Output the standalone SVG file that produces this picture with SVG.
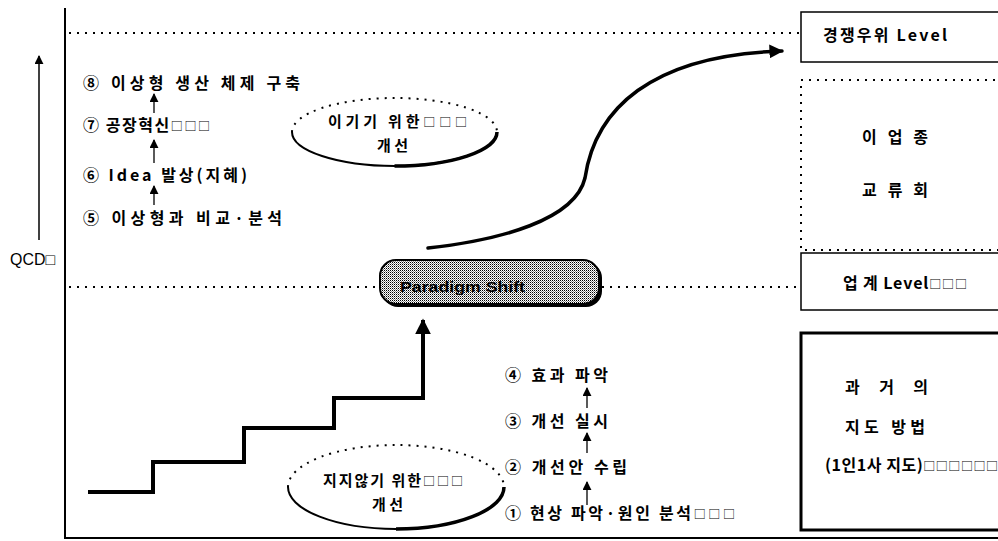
<svg xmlns="http://www.w3.org/2000/svg" width="998" height="541" viewBox="0 0 998 541">
<style>
.t{font-family:"Noto Sans CJK KR","Liberation Sans",sans-serif;font-size:16px;font-weight:700;fill:#000}
.e{font-size:15px}
.x{font-size:12px;font-weight:400}
.lat{font-family:"Liberation Sans",Arial,sans-serif;font-size:16px;fill:#000}
.dot{stroke:#000;stroke-width:2;stroke-dasharray:2 6;fill:none}
.ln{stroke:#000;fill:none}
</style>
<defs>
<pattern id="chk" width="2" height="2" patternUnits="userSpaceOnUse">
<rect width="2" height="2" fill="#fff"/>
<rect x="0" y="0" width="1" height="1" fill="#000"/>
<rect x="1" y="1" width="1" height="1" fill="#888"/>
</pattern>
<marker id="ah" viewBox="0 0 10 10" refX="9" refY="5" markerWidth="9" markerHeight="9" markerUnits="userSpaceOnUse" orient="auto">
<path d="M0,0 L10,5 L0,10 z" fill="#000"/>
</marker>
<marker id="ahb" viewBox="0 0 10 10" refX="9" refY="5" markerWidth="4" markerHeight="4" orient="auto">
<path d="M0,0 L10,5 L0,10 z" fill="#000"/>
</marker>
</defs>
<rect width="998" height="541" fill="#fff"/>

<g id="connectors">
<line class="ln" x1="65" y1="8" x2="65" y2="538" stroke-width="2"/>
<line class="ln" x1="64" y1="538" x2="998" y2="538" stroke-width="2"/>
<line class="ln" x1="39" y1="240" x2="39" y2="56" stroke-width="1.5" marker-end="url(#ah)"/>
<line class="dot" x1="69" y1="33" x2="800" y2="33"/>
<line class="dot" x1="69" y1="287" x2="380" y2="287"/>
<line class="dot" x1="602" y1="287" x2="800" y2="287"/>
<path class="ln" d="M88,492 H153 V462 H244 V428 H334 V398 H423 V320" stroke-width="4" stroke-linejoin="miter" marker-end="url(#ahb)"/>
<path class="ln" d="M428,248 C500,240 575,220 585,178 C595,110 650,55 782,51" stroke-width="3.5" stroke-linecap="round" marker-end="url(#ahb)"/>
<line class="ln" x1="154" y1="113" x2="154" y2="94" stroke-width="1.3" marker-end="url(#ah)"/>
<line class="ln" x1="154" y1="163" x2="154" y2="140" stroke-width="1.3" marker-end="url(#ah)"/>
<line class="ln" x1="154" y1="205" x2="154" y2="186" stroke-width="1.3" marker-end="url(#ah)"/>
<line class="ln" x1="587" y1="408" x2="587" y2="388" stroke-width="1.3" marker-end="url(#ah)"/>
<line class="ln" x1="587" y1="453" x2="587" y2="433" stroke-width="1.3" marker-end="url(#ah)"/>
<line class="ln" x1="587" y1="505" x2="587" y2="482" stroke-width="1.3" marker-end="url(#ah)"/>
</g>

<g id="axis-label">
<text class="lat" x="10" y="265" textLength="45" lengthAdjust="spacingAndGlyphs">QCD□</text>
</g>

<g id="steps-upper">
<text class="t" x="83" y="89" textLength="217" lengthAdjust="spacing">⑧ 이상형 생산 체제 구축</text>
<text class="t" x="83" y="131" textLength="127" lengthAdjust="spacing">⑦ 공장혁신<tspan class="x">□□□</tspan></text>
<text class="t" x="83" y="181" textLength="164" lengthAdjust="spacing">⑥ Idea 발상(지혜)</text>
<text class="t" x="83" y="224" textLength="199" lengthAdjust="spacing">⑤ 이상형과 비교·분석</text>
</g>

<g id="ellipse-win">
<path d="M292,132 A102.5,34 0 0 1 497,132" class="dot"/>
<path d="M292,132 A102.5,34 0 0 0 497,132" class="ln" stroke-width="2"/>
<path d="M394.5,166 A102.5,34 0 0 0 497,132" class="ln" stroke-width="3.5"/>
<text class="t e" x="328" y="127" textLength="139" lengthAdjust="spacing">이기기 위한<tspan class="x">□□□</tspan></text>
<text class="t e" x="377" y="151" textLength="31" lengthAdjust="spacing">개선</text>
</g>

<g id="paradigm-shift">
<rect x="382" y="262" width="220" height="45" rx="16" fill="#000"/>
<rect x="380" y="260" width="219" height="44" rx="16" fill="url(#chk)" stroke="#000" stroke-width="2"/>
<text x="400" y="292" font-family="Liberation Sans, Arial, sans-serif" font-size="14" font-weight="700" textLength="125" lengthAdjust="spacingAndGlyphs">Paradigm Shift</text>
</g>

<g id="ellipse-lose">
<path d="M288,487 A108,42 0 0 1 504,487" class="dot"/>
<path d="M288,487 A108,42 0 0 0 504,487" class="ln" stroke-width="2"/>
<path d="M396,529 A108,42 0 0 0 504,487" class="ln" stroke-width="3.5"/>
<text class="t e" x="323" y="486" textLength="140" lengthAdjust="spacing">지지않기 위한<tspan class="x">□□□</tspan></text>
<text class="t e" x="372" y="510" textLength="31" lengthAdjust="spacing">개선</text>
</g>

<g id="steps-lower">
<text class="t" x="505" y="381" textLength="103" lengthAdjust="spacing">④ 효과 파악</text>
<text class="t" x="505" y="427" textLength="103" lengthAdjust="spacing">③ 개선 실시</text>
<text class="t" x="505" y="473" textLength="122" lengthAdjust="spacing">② 개선안 수립</text>
<text class="t" x="505" y="519" textLength="230" lengthAdjust="spacing">① 현상 파악·원인 분석<tspan class="x">□□□</tspan></text>
</g>

<g id="box-competitive">
<rect x="801" y="12" width="210" height="50" fill="#fff" stroke="#000" stroke-width="1.5"/>
<text class="t" x="823" y="41" textLength="124" lengthAdjust="spacing">경쟁우위 Level</text>
</g>

<g id="box-exchange">
<rect x="801" y="80" width="210" height="170" class="dot"/>
<text class="t" x="862" y="143" textLength="66" lengthAdjust="spacing">이 업 종</text>
<text class="t" x="862" y="196" textLength="66" lengthAdjust="spacing">교 류 회</text>
</g>

<g id="box-industry">
<rect x="801" y="253" width="210" height="57" fill="#fff" stroke="#000" stroke-width="1.5"/>
<text class="t" x="843" y="289" textLength="124" lengthAdjust="spacing">업 계 Level<tspan class="x">□□□</tspan></text>
</g>

<g id="box-past">
<rect x="801" y="333" width="210" height="197" fill="#fff" stroke="#000" stroke-width="3"/>
<text class="t" x="845" y="393" textLength="83" lengthAdjust="spacing">과 거 의</text>
<text class="t" x="845" y="433" textLength="80" lengthAdjust="spacing">지도 방법</text>
<text class="t" x="825" y="471" textLength="173" lengthAdjust="spacing">(1인1사 지도)<tspan class="x">□□□□□□</tspan></text>
</g>
</svg>
